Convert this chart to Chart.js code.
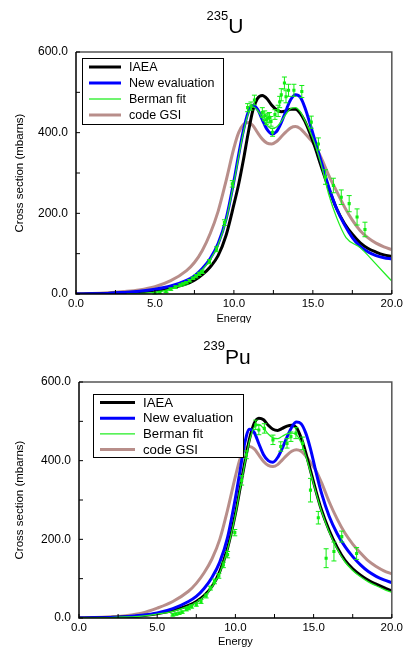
<!DOCTYPE html>
<html>
<head>
<meta charset="utf-8">
<script src="https://cdn.jsdelivr.net/npm/chart.js@4.4.1/dist/chart.umd.min.js"></script>
<style>
html, body { margin: 0; padding: 0; background: #fff; }
#wrap { position: relative; width: 406px; height: 647px; }
.box { position: absolute; left: 0; width: 406px; }
</style>
</head>
<body>
<div id="wrap">
  <div class="box" style="top:0;height:323px"><canvas id="chartU"></canvas></div>
  <div class="box" style="top:323px;height:324px"><canvas id="chartPu"></canvas></div>
</div>
<script>
// energy grid shared by the smooth curves
const energy = [0,1,2,3,4,5,6,7,7.5,8,8.5,9,9.5,10,10.3,10.6,10.9,11.2,11.5,11.8,12.1,12.4,12.7,13,13.3,13.6,13.9,14.2,14.5,14.8,15.1,15.5,16,16.5,17,17.5,18,18.5,19,19.5,20];

// 235U
const uIaea = [0,0.5,1,3,5,9,15,25,34,48,67,95,145,222,272,332,398,455,485,492,484,468,457,452,454,458,458,448,428,400,368,320,262,212,175,148,127,113,104,97,93];
const uNew  = [0,0.5,1.5,4,7,12,20,34,45,63,88,125,185,280,345,405,450,468,458,432,408,397,403,425,455,482,494,488,462,425,385,332,266,212,172,140,118,104,95,90,87];
const uGsi  = [0,1,3,6,10,18,33,58,78,108,150,205,280,362,400,420,425,418,400,384,374,372,378,390,402,412,415,410,398,385,370,340,295,255,216,183,157,139,126,117,110];
const uBermanE = [3.2,4,5,6,7,7.5,8,8.5,9,9.5,10,10.3,10.6,10.9,11.2,11.5,11.8,12.1,12.4,12.7,13,13.3,13.6,13.9,14.2,14.5,14.8,15.1,15.5,16,16.5,17.1,18,19,20];
const uBermanV = [0,1,4,13,29,42,60,85,122,182,276,340,400,446,464,455,436,418,410,414,428,446,460,462,452,430,405,375,325,248,190,140,115,74,32];
const uExpE = [5.0,5.3,5.7,6.0,6.3,6.6,6.8,7.0,7.2,7.4,7.6,7.8,8.0,8.45,8.9,9.4,9.9,10.87,11.08,11.3,11.8,11.95,12.05,12.15,12.25,12.35,12.45,12.6,12.8,12.9,13.0,13.2,13.3,13.46,13.8,14.3,14.9,15.35,15.8,16.3,16.8,17.3,17.8,18.3];
const uExpV = [2,4,6,12,17,22,25,28,33,39,44,50,55,80,111,177,273,462,466,481,450,442,432,436,438,428,401,445,454,476,494,523,489,505,505,502,426,372,290,269,240,224,191,160];
const uExpErr = [2,2,2,3,3,3,3,3,3,3,4,4,4,5,6,7,8,10,10,12,12,12,12,12,12,12,10,12,14,14,15,15,15,15,15,15,15,15,18,18,18,20,20,18];

// 239Pu
const puIaea = [0,0.5,1.5,3,6,11,19,32,42,57,80,118,178,265,330,395,455,495,508,504,490,480,477,482,488,490,484,458,420,375,330,275,222,180,147,125,109,96,86,77,69];
const puNew  = [0,0.5,1.5,3.5,7,13,24,42,55,75,103,142,205,305,375,445,480,472,443,415,400,396,408,432,460,485,498,494,470,430,380,318,258,215,182,156,135,118,106,97,90];
const puGsi  = [0,1,3,6,12,25,42,68,88,115,150,200,275,360,405,430,436,430,414,398,388,385,390,402,414,424,428,424,412,396,378,345,295,252,216,188,165,145,131,120,112];
const puBerman = [0,0.5,1,2.5,5,10,17,30,40,55,78,115,175,262,328,392,450,485,492,482,468,458,456,462,468,470,466,446,412,370,326,272,218,176,143,121,105,92,82,73,65];
const puExpE = [6.0,6.2,6.4,6.6,6.86,7.0,7.2,7.5,7.8,8.13,8.4,8.66,8.94,9.23,9.5,9.96,10.4,10.7,11.3,11.5,11.85,12.4,12.9,13.3,13.55,13.87,14.3,14.8,15.3,15.8,16.3,16.8,17.75];
const puExpV = [8,10,12,15,22,25,29,34,42,56,76,93,107,135,161,217,350,415,491,478,482,453,436,444,461,470,444,325,255,152,169,207,164];
const puExpErr = [3,3,3,3,4,4,4,4,5,5,5,6,6,7,8,8,12,10,12,12,12,12,12,12,12,14,16,30,16,24,24,14,15];

const seriesNames = ['IAEA', 'New evaluation', 'Berman fit', 'code GSI'];
const seriesColors = ['#000000', '#0000ff', '#22ee22', '#b88e8a'];
const seriesWidths = [3, 3, 1.3, 3];

const FONT = '"Liberation Sans", Arial, sans-serif';
Chart.defaults.font.family = FONT;
Chart.defaults.color = '#000';

function pts(xs, ys) {
  return xs.map((x, i) => ({ x: x, y: ys[i] }));
}

const frame = {
  id: 'frame',
  afterDatasetsDraw(chart, args, o) {
    const ctx = chart.ctx, a = chart.chartArea;
    const xs = chart.scales.x, ys = chart.scales.y;
    ctx.save();

    // error bars
    chart.data.datasets.forEach(ds => {
      if (!ds.errors) return;
      ctx.strokeStyle = ds.borderColor;
      ctx.lineWidth = 1;
      ds.data.forEach((p, j) => {
        const x = xs.getPixelForValue(p.x);
        const y1 = ys.getPixelForValue(p.y - ds.errors[j]);
        const y2 = ys.getPixelForValue(p.y + ds.errors[j]);
        ctx.beginPath();
        ctx.moveTo(x, y1); ctx.lineTo(x, y2);
        ctx.moveTo(x - 2.5, y1); ctx.lineTo(x + 2.5, y1);
        ctx.moveTo(x - 2.5, y2); ctx.lineTo(x + 2.5, y2);
        ctx.stroke();
      });
    });

    // frame: top and right grey, left and bottom black
    ctx.lineWidth = 1.5;
    ctx.strokeStyle = '#555';
    ctx.beginPath();
    ctx.moveTo(a.left, a.top); ctx.lineTo(a.right, a.top); ctx.lineTo(a.right, a.bottom);
    ctx.stroke();
    ctx.strokeStyle = '#000';
    ctx.beginPath();
    ctx.moveTo(a.left, a.top); ctx.lineTo(a.left, a.bottom); ctx.lineTo(a.right, a.bottom);
    ctx.stroke();

    // inward ticks
    ctx.lineWidth = 1;
    ctx.beginPath();
    xs.ticks.forEach(t => {
      const x = xs.getPixelForValue(t.value);
      ctx.moveTo(x, a.bottom); ctx.lineTo(x, a.bottom - 4);
    });
    ys.ticks.forEach(t => {
      const y = ys.getPixelForValue(t.value);
      ctx.moveTo(a.left, y); ctx.lineTo(a.left + 4, y);
    });
    ctx.stroke();

    // legend box
    const L = o.legend;
    ctx.fillStyle = '#fff';
    ctx.fillRect(a.left + L.dx, a.top + L.dy, L.w, L.h);
    ctx.strokeStyle = '#000';
    ctx.lineWidth = 1;
    ctx.strokeRect(a.left + L.dx + 0.5, a.top + L.dy + 0.5, L.w, L.h);
    ctx.font = L.size + 'px ' + FONT;
    ctx.textBaseline = 'middle';
    ctx.textAlign = 'left';
    seriesNames.forEach((name, i) => {
      const y = a.top + L.dy + L.first + i * L.row;
      ctx.strokeStyle = seriesColors[i];
      ctx.lineWidth = seriesWidths[i];
      ctx.beginPath();
      ctx.moveTo(a.left + L.l1, y); ctx.lineTo(a.left + L.l2, y);
      ctx.stroke();
      ctx.fillStyle = '#000';
      ctx.fillText(name, a.left + L.tx, y + 0.5);
    });

    // title with superscript mass number
    const T = o.title;
    ctx.font = T.supSize + 'px ' + FONT;
    const w1 = ctx.measureText(T.sup).width;
    ctx.font = T.size + 'px ' + FONT;
    const w2 = ctx.measureText(T.main).width;
    const x0 = T.cx - (w1 + w2) / 2;
    ctx.textBaseline = 'alphabetic';
    ctx.fillStyle = '#000';
    ctx.fillText(T.main, x0 + w1, T.base);
    ctx.font = T.supSize + 'px ' + FONT;
    ctx.fillText(T.sup, x0, T.base - T.raise);

    // axis titles
    ctx.font = '11px ' + FONT;
    ctx.textAlign = 'center';
    ctx.textBaseline = 'middle';
    ctx.fillText('Energy', (a.left + a.right) / 2, a.bottom + o.xTitleDy);
    ctx.translate(o.yTitleX, (a.top + a.bottom) / 2);
    ctx.rotate(-Math.PI / 2);
    ctx.font = '11.5px ' + FONT;
    ctx.fillText('Cross section (mbarns)', 0, 0);
    ctx.restore();
  }
};

function makeChart(id, curves, bermanPts, expPts, errs, cfg) {
  const lineDs = (i, data) => ({
    label: seriesNames[i],
    data: data,
    borderColor: seriesColors[i],
    backgroundColor: seriesColors[i],
    borderWidth: seriesWidths[i],
    pointRadius: 0,
    cubicInterpolationMode: 'monotone',
    fill: false
  });
  const datasets = [
    Object.assign(lineDs(3, pts(energy, curves.gsi)), { order: 5 }),
    Object.assign(lineDs(0, pts(energy, curves.iaea)), { order: 4 }),
    Object.assign(lineDs(1, pts(energy, curves.newEval)), { order: 3 }),
    Object.assign(lineDs(2, bermanPts), { order: 2 }),
    {
      label: 'data',
      data: expPts,
      errors: errs,
      showLine: false,
      pointRadius: 2.2,
      pointStyle: 'rect',
      borderColor: '#11ee11',
      backgroundColor: '#11ee11',
      borderWidth: 0,
      order: 1
    }
  ];
  return new Chart(document.getElementById(id), {
    type: 'line',
    data: { datasets: datasets },
    options: {
      responsive: true,
      maintainAspectRatio: false,
      animation: false,
      layout: { padding: { top: cfg.top, right: 13, left: 0, bottom: 0 } },
      plugins: {
        legend: { display: false },
        tooltip: { enabled: false },
        frame: cfg.frame
      },
      scales: {
        x: {
          type: 'linear', min: 0, max: 20,
          grid: { display: false, drawTicks: false },
          border: { display: false },
          afterFit: s => { s.height = 29; },
          ticks: {
            stepSize: 2.5, autoSkip: false, maxRotation: 0, padding: 3,
            font: { size: 11.5 },
            callback: v => (v % 5 === 0 ? v.toFixed(1) : '')
          }
        },
        y: {
          min: 0, max: 600,
          grid: { display: false, drawTicks: false },
          border: { display: false },
          afterFit: s => { s.width = cfg.left; },
          ticks: {
            stepSize: 100, padding: 8,
            font: { size: 12 },
            callback: v => (v % 200 === 0 ? v.toFixed(1) : '')
          }
        }
      }
    },
    plugins: [frame]
  });
}

makeChart('chartU',
  { iaea: uIaea, newEval: uNew, gsi: uGsi },
  pts(uBermanE, uBermanV), pts(uExpE, uExpV), uExpErr,
  {
    top: 52, left: 76,
    frame: {
      legend: { dx: 6, dy: 6, w: 141, h: 66, first: 9, row: 16, l1: 13, l2: 45, tx: 53, size: 12.5 },
      title: { sup: '235', main: 'U', cx: 225, base: 33, raise: 13, size: 21, supSize: 13 },
      xTitleDy: 25, yTitleX: 20
    }
  });

makeChart('chartPu',
  { iaea: puIaea, newEval: puNew, gsi: puGsi },
  pts(energy, puBerman), pts(puExpE, puExpV), puExpErr,
  {
    top: 59, left: 79,
    frame: {
      legend: { dx: 14, dy: 12, w: 150, h: 63, first: 8.5, row: 15.7, l1: 21, l2: 56, tx: 64, size: 13.2 },
      title: { sup: '239', main: 'Pu', cx: 227, base: 41, raise: 14, size: 21, supSize: 13 },
      xTitleDy: 24, yTitleX: 20
    }
  });
</script>
</body>
</html>
